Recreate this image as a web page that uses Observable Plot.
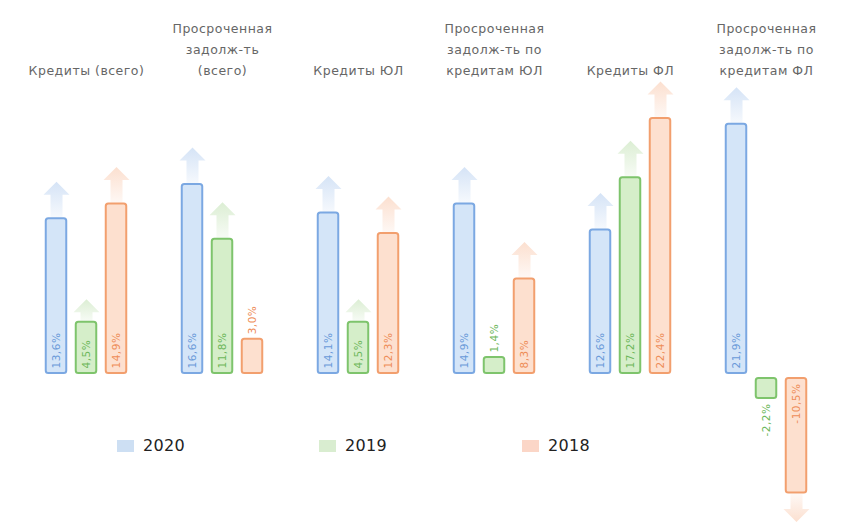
<!DOCTYPE html>
<html>
<head>
<meta charset="utf-8">
<script src="https://cdn.jsdelivr.net/npm/d3@7"></script>
<script src="https://cdn.jsdelivr.net/npm/@observablehq/plot@0.6"></script>
<style>
  html, body { margin: 0; padding: 0; background: #fff; }
  #wrap { position: relative; width: 849px; height: 527px; }
  #wrap svg text { letter-spacing: 0.5px; }
  .leg { position: absolute; font-family: "DejaVu Sans", sans-serif; font-size: 16px; font-weight: normal; color: #222; letter-spacing: 0.3px; }
  .sw { position: absolute; width: 17px; height: 12px; }
</style>
</head>
<body>
<div id="wrap"></div>
<script>
// ---- data ----
const groups = ["credits", "overdue", "creditsUL", "overdueUL", "creditsFL", "overdueFL"];
const titles = [
  "Кредиты (всего)",
  "Просроченная\nзадолж-ть\n(всего)",
  "Кредиты ЮЛ",
  "Просроченная\nзадолж-ть по\nкредитам ЮЛ",
  "Кредиты ФЛ",
  "Просроченная\nзадолж-ть по\nкредитам ФЛ"
];
const years = ["2020", "2019", "2018"];
const values2020 = [13.6, 16.6, 14.1, 14.9, 12.6, 21.9];
const values2019 = [4.5, 11.8, 4.5, 1.4, 17.2, -2.2];
const values2018 = [14.9, 3.0, 12.3, 8.3, 22.4, -10.5];

const strokeColors = {"2020": "#7ba8e2", "2019": "#7ec46c", "2018": "#f29f6e"};
const fillColors   = {"2020": "#d4e5f8", "2019": "#d5eec9", "2018": "#fde0cf"};
const textColors   = {"2020": "#6a9ad9", "2019": "#6db75a", "2018": "#ee8d58"};
const legendColors = {"2020": "#cddff3", "2019": "#d9edd0", "2018": "#fbd6c7"};

// ---- table ----
const series = {"2020": values2020, "2019": values2019, "2018": values2018};
const rows = [];
groups.forEach((g, i) => years.forEach(y => rows.push({group: g, year: y, value: series[y][i]})));
const pos = rows.filter(d => d.value >= 0);
const neg = rows.filter(d => d.value < 0);
const titleRows = groups.map((g, i) => ({group: g, title: titles[i]}));

// ---- arrow symbols ----
function arrow(dir) {
  return {
    draw(ctx, size) {
      const L = Math.sqrt(size / Math.PI);
      const hw = 13, sw = 6, hh = 13;
      const s = dir; // -1 up, +1 down
      ctx.moveTo(-sw, 0);
      ctx.lineTo(-sw, s * (L - hh));
      ctx.lineTo(-hw, s * (L - hh));
      ctx.lineTo(0, s * L);
      ctx.lineTo(hw, s * (L - hh));
      ctx.lineTo(sw, s * (L - hh));
      ctx.lineTo(sw, 0);
      ctx.closePath();
    }
  };
}
const up = arrow(-1), down = arrow(1);

const k = 11.38, y0 = 373;
const common = {fx: "group", x: "year"};
const fmt = d => d.value.toFixed(1).replace(".", ",") + "%";

const chart = Plot.plot({
  width: 849,
  height: 527,
  marginTop: 0, marginBottom: 0, marginLeft: 0, marginRight: 0,
  fx: {domain: groups, range: [16.7, 836.3], padding: 0, axis: null},
  x: {domain: years, range: [22.55, 114.05], padding: 0, axis: null},
  y: {domain: [-13, 25], range: [y0 + 13 * k, y0 - 25 * k], axis: null},
  color: {type: "identity"},
  marks: [
    // arrows
    Plot.dot(pos.filter(d => d.value >= 6), {...common, y: "value", dy: -1, symbol: up, r: 36,
      fill: d => `url(#ga${d.year})`, stroke: "none"}),
    Plot.dot(pos.filter(d => d.value >= 3.5 && d.value < 6), {...common, y: "value", dy: -1, symbol: up, r: 22,
      fill: d => `url(#ga${d.year})`, stroke: "none"}),
    Plot.dot(neg.filter(d => d.value <= -3.5), {...common, y: "value", dy: 1, symbol: down, r: 28,
      fill: d => `url(#gd${d.year})`, stroke: "none"}),
    // bars
    Plot.barY(pos, {...common, y1: 0, y2: "value", fill: d => fillColors[d.year], stroke: d => strokeColors[d.year],
      strokeWidth: 2, rx: 2.5, insetLeft: 4.75, insetRight: 4.75}),
    Plot.barY(neg, {...common, y1: 0, y2: "value", fill: d => fillColors[d.year], stroke: d => strokeColors[d.year],
      strokeWidth: 2, rx: 2.5, insetLeft: 4.75, insetRight: 4.75, insetTop: 5}),
    // value labels
    Plot.text(pos.filter(d => d.value >= 3.5), {...common, y: 0, dy: -5, rotate: -90, textAnchor: "start", lineAnchor: "middle",
      text: fmt, fill: d => textColors[d.year], fontSize: 10.5, fontFamily: "DejaVu Sans"}),
    Plot.text(pos.filter(d => d.value < 3.5), {...common, y: "value", dy: -5, rotate: -90, textAnchor: "start", lineAnchor: "middle",
      text: fmt, fill: d => textColors[d.year], fontSize: 10.5, fontFamily: "DejaVu Sans"}),
    Plot.text(neg.filter(d => d.value > -3.5), {...common, y: "value", dy: 5, rotate: -90, textAnchor: "end", lineAnchor: "middle",
      text: fmt, fill: d => textColors[d.year], fontSize: 10.5, fontFamily: "DejaVu Sans"}),
    Plot.text(neg.filter(d => d.value <= -3.5), {...common, y: 0, dy: 10, rotate: -90, textAnchor: "end", lineAnchor: "middle",
      text: fmt, fill: d => textColors[d.year], fontSize: 10.5, fontFamily: "DejaVu Sans"}),
    // group titles
    Plot.text(titleRows, {fx: "group", text: "title", frameAnchor: "top", lineAnchor: "bottom", dy: 74,
      lineHeight: 1.65, fontSize: 12.5, fontFamily: "DejaVu Sans", fill: "#666"})
  ]
});

const svg = d3.select(chart);
svg.selectAll('g[fill="#666"]').style("letter-spacing", "1.1px");

// gradients for arrows
const defs = svg.insert("defs", ":first-child");
const arrowColors = {"2020": "#b3cdef", "2019": "#bfe0b0", "2018": "#f9c6a9"};
years.forEach(y => {
  const ga = defs.append("linearGradient").attr("id", "ga" + y).attr("x1", 0).attr("y1", 0).attr("x2", 0).attr("y2", 1);
  ga.append("stop").attr("offset", "0%").attr("stop-color", arrowColors[y]).attr("stop-opacity", 0.55);
  ga.append("stop").attr("offset", "100%").attr("stop-color", arrowColors[y]).attr("stop-opacity", 0.12);
  const gd = defs.append("linearGradient").attr("id", "gd" + y).attr("x1", 0).attr("y1", 1).attr("x2", 0).attr("y2", 0);
  gd.append("stop").attr("offset", "0%").attr("stop-color", arrowColors[y]).attr("stop-opacity", 0.55);
  gd.append("stop").attr("offset", "100%").attr("stop-color", arrowColors[y]).attr("stop-opacity", 0.12);
});

const wrap = document.getElementById("wrap");
wrap.appendChild(chart);

// legend
const legendLeft = [117, 319, 522];
years.forEach((y, i) => {
  const sw = document.createElement("div");
  sw.className = "sw";
  sw.style.left = legendLeft[i] + "px";
  sw.style.top = "440px";
  sw.style.background = legendColors[y];
  wrap.appendChild(sw);
  const t = document.createElement("div");
  t.className = "leg";
  t.textContent = y;
  t.style.left = (legendLeft[i] + 26) + "px";
  t.style.top = "436px";
  wrap.appendChild(t);
});
</script>
</body>
</html>
